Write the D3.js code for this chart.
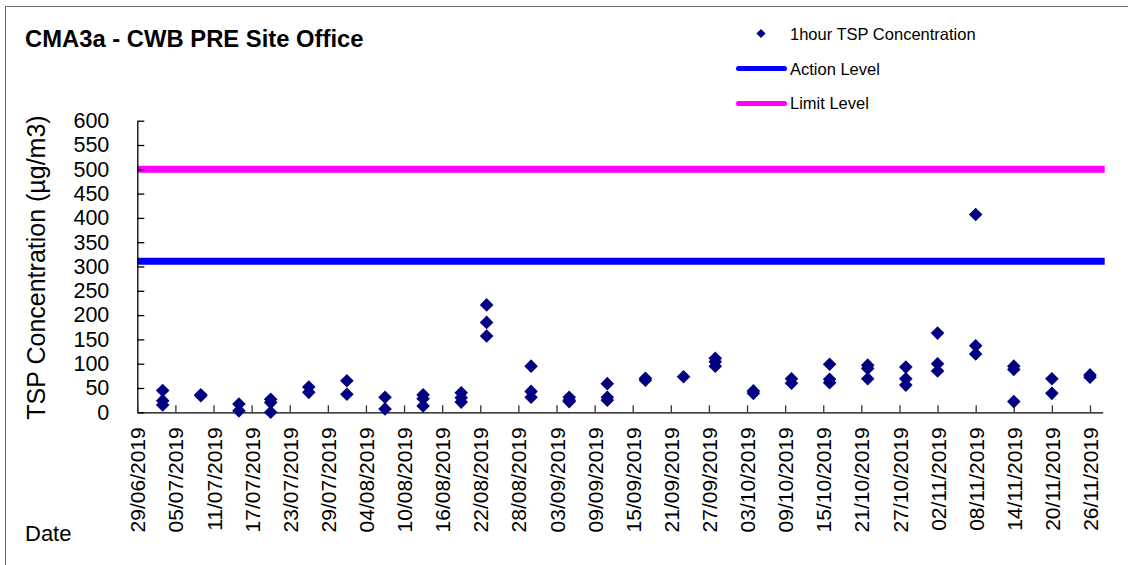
<!DOCTYPE html>
<html>
<head>
<meta charset="utf-8">
<script src="https://cdn.jsdelivr.net/npm/d3@7"></script>
<style>
  html, body { margin: 0; padding: 0; background: #fff; }
  svg { display: block; font-family: "Liberation Sans", Arial, sans-serif; }
</style>
</head>
<body>
<svg id="chart" width="1128" height="565"></svg>
<script>
// ---- Data ----
const title = "CMA3a - CWB PRE Site Office";
const yAxisTitle = "TSP Concentration (µg/m3)";
const xAxisTitle = "Date";
const seriesName = "1hour TSP Concentration";
const actionLabel = "Action Level";
const limitLabel = "Limit Level";

const sampleDates = [
  "03/07/2019","03/07/2019","03/07/2019",
  "09/07/2019","09/07/2019",
  "15/07/2019","15/07/2019",
  "20/07/2019","20/07/2019","20/07/2019",
  "26/07/2019","26/07/2019",
  "01/08/2019","01/08/2019",
  "07/08/2019","07/08/2019",
  "13/08/2019","13/08/2019","13/08/2019",
  "19/08/2019","19/08/2019","19/08/2019",
  "23/08/2019","23/08/2019","23/08/2019",
  "30/08/2019","30/08/2019","30/08/2019",
  "05/09/2019","05/09/2019","05/09/2019",
  "11/09/2019","11/09/2019","11/09/2019",
  "17/09/2019","17/09/2019",
  "23/09/2019",
  "28/09/2019","28/09/2019","28/09/2019",
  "04/10/2019","04/10/2019",
  "10/10/2019","10/10/2019",
  "16/10/2019","16/10/2019","16/10/2019",
  "22/10/2019","22/10/2019","22/10/2019",
  "28/10/2019","28/10/2019","28/10/2019",
  "02/11/2019","02/11/2019","02/11/2019",
  "08/11/2019","08/11/2019","08/11/2019",
  "14/11/2019","14/11/2019","14/11/2019",
  "20/11/2019","20/11/2019",
  "26/11/2019","26/11/2019"
];
const tspValues = [
  45, 24, 15,
  36, 34,
  17, 3,
  27, 20, 0,
  52, 41,
  65, 37,
  31, 7,
  36, 28, 13,
  40, 30, 21,
  221, 185, 157,
  95, 43, 31,
  31, 25, 22,
  59, 31, 25,
  70, 66,
  73,
  111, 104, 95,
  44, 39,
  69, 60,
  99, 68, 61,
  97, 90, 69,
  93, 69, 56,
  163, 100, 85,
  407, 137, 120,
  95, 88, 22,
  69, 39,
  77, 72
];
const actionLevel = 311;
const limitLevel = 500;
const xDomain = ["29/06/2019", "28/11/2019"];
const xTickLabels = ["29/06/2019","05/07/2019","11/07/2019","17/07/2019","23/07/2019","29/07/2019",
  "04/08/2019","10/08/2019","16/08/2019","22/08/2019","28/08/2019","03/09/2019","09/09/2019",
  "15/09/2019","21/09/2019","27/09/2019","03/10/2019","09/10/2019","15/10/2019","21/10/2019",
  "27/10/2019","02/11/2019","08/11/2019","14/11/2019","20/11/2019","26/11/2019"];
const yTicks = [0, 50, 100, 150, 200, 250, 300, 350, 400, 450, 500, 550, 600];

// ---- Layout ----
const parse = d3.timeParse("%d/%m/%Y");
const fmt = d3.timeFormat("%d/%m/%Y");
const plot = { left: 137.3, right: 1102.7, top: 120.7, bottom: 412.3 };
const navy = "#000080";

const svg = d3.select("#chart");

// outer frame (only top and left visible)
svg.append("rect").attr("x", 5.5).attr("y", 6.5).attr("width", 1140).attr("height", 580)
  .attr("fill", "none").attr("stroke", "#6e6e6e").attr("stroke-width", 1);

const x = d3.scaleTime().domain(xDomain.map(parse)).range([plot.left, plot.right]);
const y = d3.scaleLinear().domain([0, 600]).range([plot.bottom, plot.top]);

// Title
svg.append("text").attr("x", 25).attr("y", 46.5).attr("font-size", 23.8).attr("font-weight", "bold")
  .attr("fill", "#000").text(title);

// Reference lines
const refG = svg.append("g");
[[actionLevel, "#0000ff"], [limitLevel, "#ff00ff"]].forEach(([v, c]) => {
  refG.append("line")
    .attr("x1", x(parse(xTickLabels[0]))).attr("x2", x.range()[1] + 2)
    .attr("y1", y(v)).attr("y2", y(v))
    .attr("stroke", c).attr("stroke-width", 7);
});

// Y axis
const yAxis = d3.axisLeft(y).tickValues(yTicks).tickSizeInner(-7).tickSizeOuter(0).tickPadding(28);
const yg = svg.append("g").attr("transform", `translate(${plot.left},0)`).call(yAxis);
yg.select(".domain").attr("stroke", "#000").attr("stroke-width", 1.3);
yg.selectAll(".tick line").attr("stroke", "#000").attr("stroke-width", 1.3);
yg.selectAll(".tick text").attr("font-size", 21.5).attr("fill", "#000")
  .attr("font-family", "'Liberation Sans', Arial, sans-serif");

// X axis
const xAxis = d3.axisBottom(x).tickValues(xTickLabels.map(parse)).tickFormat(fmt)
  .tickSizeInner(-7).tickSizeOuter(0);
const xg = svg.append("g").attr("transform", `translate(0,${plot.bottom})`).call(xAxis);
xg.select(".domain").attr("stroke", "#000").attr("stroke-width", 1.3);
xg.selectAll(".tick line").attr("stroke", "#333").attr("stroke-width", 1.3);
xg.selectAll(".tick text")
  .attr("font-size", 21).attr("fill", "#000")
  .attr("font-family", "'Liberation Sans', Arial, sans-serif")
  .attr("transform", "rotate(-90)")
  .attr("text-anchor", "end")
  .attr("x", -15).attr("y", 0).attr("dy", "0.36em");

// Axis titles
svg.append("text")
  .attr("transform", `translate(45,${(plot.top + plot.bottom) / 2 + 1}) rotate(-90)`)
  .attr("text-anchor", "middle").attr("font-size", 25).attr("fill", "#000")
  .text(yAxisTitle);
svg.append("text").attr("x", 25).attr("y", 541).attr("font-size", 22).attr("fill", "#000")
  .text(xAxisTitle);

// Points
const diamond = r => `M0,${-r}L${r},0L0,${r}L${-r},0Z`;
svg.append("g").selectAll("path")
  .data(sampleDates.map((d, i) => ({ date: parse(d), value: tspValues[i] })))
  .join("path")
  .attr("d", diamond(6.8))
  .attr("transform", d => `translate(${x(d.date)},${y(d.value)})`)
  .attr("fill", navy);

// Legend
const lg = svg.append("g");
lg.append("path").attr("d", diamond(4.6)).attr("transform", "translate(761,33.5)").attr("fill", navy);
lg.append("text").attr("x", 790).attr("y", 40).attr("font-size", 16.5).text(seriesName);
lg.append("line").attr("x1", 738.5).attr("x2", 784.5).attr("y1", 68.5).attr("y2", 68.5)
  .attr("stroke", "#0000ff").attr("stroke-width", 5).attr("stroke-linecap", "round");
lg.append("text").attr("x", 790).attr("y", 74.5).attr("font-size", 16.5).text(actionLabel);
lg.append("line").attr("x1", 738.5).attr("x2", 784.5).attr("y1", 103.5).attr("y2", 103.5)
  .attr("stroke", "#ff00ff").attr("stroke-width", 5).attr("stroke-linecap", "round");
lg.append("text").attr("x", 790).attr("y", 109).attr("font-size", 16.5).text(limitLabel);
</script>
</body>
</html>
